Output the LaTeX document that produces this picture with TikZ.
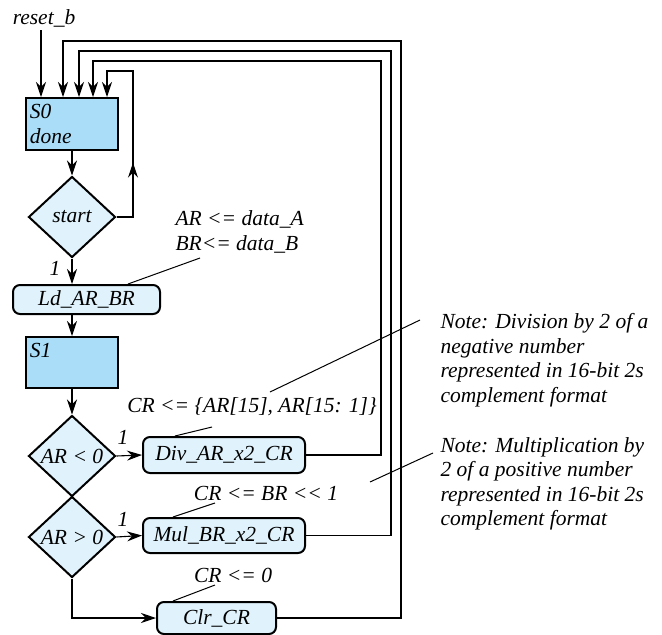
\documentclass[tikz,border=0pt]{standalone}
\usepackage{fontspec}
\setmainfont{Liberation Serif}
\usetikzlibrary{arrows.meta,shapes.geometric,decorations.markings}
\definecolor{statefill}{RGB}{170,222,248}
\definecolor{palefill}{RGB}{224,243,252}

\begin{document}
\begin{tikzpicture}[x=1pt,y=-1pt,
  every node/.style={font=\fontsize{21.5}{24.5}\selectfont\itshape},
  statebox/.style={draw,line width=2pt,fill=statefill,minimum width=92pt,minimum height=52pt,
    inner xsep=4pt,inner ysep=2pt,text width=84pt,align=left},
  condbox/.style={draw,line width=2pt,fill=palefill,rounded corners=7pt,inner sep=0pt,minimum height=35pt},
  decision/.style={diamond,draw,line width=2pt,fill=palefill,minimum width=87pt,minimum height=81pt,inner sep=0pt},
  flow/.style={-{Stealth[length=15pt,width=10pt,inset=5pt]},line width=1.1pt},
  wire/.style={line width=1pt},
  midarrow/.style={postaction={decorate},decoration={markings,mark=at position #1 with {\arrow{Stealth[length=15pt,width=10pt,inset=5pt]}}}}]
  \useasboundingbox (0,0) rectangle (662,635);
  % states, decisions and conditional boxes
  \node (rst) at (44,18) {reset\_b};
  \node[statebox] (S0) at (72,124) {S0\\done};
  \node[decision,label=center:{start}] (dS) at (72,217) {};
  \node[condbox,minimum width=147pt,minimum height=29pt] (Ld) at (86.5,299.5) {Ld\_AR\_BR};
  \node[statebox,minimum height=51pt] (S1) at (72,362.5) {S1\\\mbox{}};
  \node[decision,label=center:{AR < 0}] (dA) at (72,456) {};
  \node[decision,label=center:{AR > 0}] (dB) at (72,537) {};
  \node[condbox,minimum width=162pt,minimum height=36pt] (Div) at (224,455) {Div\_AR\_x2\_CR};
  \node[condbox,minimum width=162pt] (Mul) at (224,535.5) {Mul\_BR\_x2\_CR};
  \node[condbox,minimum width=119pt,minimum height=32pt] (Clr) at (216.5,618) {Clr\_CR};
  % entry columns on top of S0
  \coordinate (cR) at (41,0);
  \coordinate (c1) at (63,0);
  \coordinate (c2) at (79,0);
  \coordinate (c3) at (93,0);
  \coordinate (c4) at (107,0);
  % main flow
  \draw[flow] (cR |- rst.south) -- (cR |- S0.north);
  \draw[flow] (S0.south) -- (dS.north);
  \draw[flow] (dS.south) -- (dS.south |- Ld.north);
  \draw[flow] (S1.north |- Ld.south) -- (S1.north);
  \draw[flow] (S1.south) -- (dA.north);
  \draw[flow] (dA.east) -- (Div.west);
  \draw[flow] (dB.east) -- (Mul.west);
  \draw[flow] (dB.south) |- (Clr.west);
  \node (one0) at (55,268) {1};
  \node (one1) at (123,437) {1};
  \node (one2) at (123,519) {1};
  % feedback paths to S0
  \draw[flow,midarrow=0.33] (dS.east) -| (133,71) -| (c4 |- S0.north);
  \draw[flow] (Div.east) -| (381,61) -| (c3 |- S0.north);
  \draw[flow] (Mul.east) -| (391,51) -| (c2 |- S0.north);
  \draw[flow] (Clr.east) -| (401,41) -| (c1 |- S0.north);
  % register transfers
  \node[anchor=west,align=left] (tLd) at (172,232) {AR <= data\_A\\BR<= data\_B};
  \node (tDiv) at (252,407) {CR <= \{AR[15], AR[15: 1]\}};
  \node (tMul) at (266,493) {CR <= BR <{}< 1};
  \node (tClr) at (233,575) {CR <= 0};
  \draw[wire] (200,258) -- (Ld.north -| 128,0);
  \draw[wire] (212,427) -- (Div.north -| 175,0);
  \draw[wire] (215,503) -- (Mul.north -| 173,0);
  \draw[wire] (215,585) -- (Clr.north -| 173,0);
  % notes
  \node[anchor=west,align=left] (nDiv) at (437,360) {Note: Division by 2 of a\\negative number\\represented in 16-bit 2s\\complement format};
  \node[anchor=west,align=left] (nMul) at (437,484) {Note: Multiplication by\\2 of a positive number\\represented in 16-bit 2s\\complement format};
  \draw[wire] (270,392) -- (420,320);
  \draw[wire] (370,482) -- (433,453);
\end{tikzpicture}
\end{document}
